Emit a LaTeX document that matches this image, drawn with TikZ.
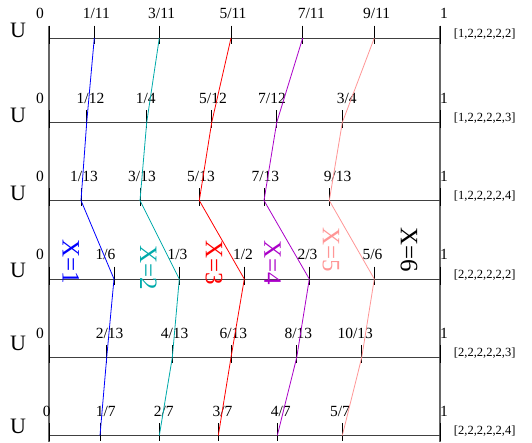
\documentclass[tikz,border=0pt]{standalone}
\usepackage{fontspec}
\setmainfont{Liberation Serif}
\definecolor{xone}{RGB}{0,0,255}
\definecolor{xtwo}{RGB}{0,170,170}
\definecolor{xthree}{RGB}{255,0,0}
\definecolor{xfour}{RGB}{170,0,200}
\definecolor{xfive}{RGB}{255,150,150}
\begin{document}
\begin{tikzpicture}[
    x=1pt, y=-1pt,
    rowline/.style={draw=black!75, line width=1pt},
    frame/.style={draw=black!60, line width=1.2pt},
    tickline/.style={draw=black, line width=0.9pt},
    num/.style={inner sep=0pt, font=\fontsize{15.5}{17}\selectfont},
    seq/.style={inner sep=0pt, font=\fontsize{12.5}{14}\selectfont},
    ulab/.style={inner sep=0pt, font=\fontsize{22}{24}\selectfont},
    xlab/.style={inner sep=0pt, rotate=-90, font=\fontsize{25}{27}\selectfont},
    path/.style={line width=0.8pt}
]
    \useasboundingbox (0,0) rectangle (532,442);

    % frame
    \coordinate (ftl) at (49,25.5);
    \coordinate (fbl) at (49,442);
    \coordinate (ftr) at (440,25.5);
    \coordinate (fbr) at (440,442);
    \draw[frame] (ftl) -- (fbl);
    \draw[frame] (ftr) -- (fbr);

    % rows: index / height / U height / position of 0 / sequence / ticks
    \foreach \r/\y/\uy/\zx/\sq/\ticks in {
        1/38/30/40/{[1,2,2,2,2,2]}/{94.3/96.3/1/11, 159.3/161.7/3/11, 231/233/5/11, 302.7/311.3/7/11, 374.3/376.7/9/11},
        2/122.5/115/40/{[1,2,2,2,2,3]}/{86.7/90.5/1/12, 146.7/145.8/1/4, 211.7/213/5/12, 276.7/272/7/12, 342.3/346.7/3/4},
        3/200.5/193/40/{[1,2,2,2,2,4]}/{81/84/1/13, 140/142/3/13, 199.3/201/5/13, 264/265.3/7/13, 329.3/337.7/9/13},
        4/279/270/40/{[2,2,2,2,2,2]}/{114/105.5/1/6, 179.3/177.5/1/3, 244.3/243/1/2, 309.3/307.5/2/3, 374.3/372.5/5/6},
        5/357.5/343/40/{[2,2,2,2,2,3]}/{106.7/109.7/2/13, 172.3/174.7/4/13, 231/233.3/6/13, 296.7/298.3/8/13, 361.7/355.3/10/13},
        6/435.5/426.5/46.7/{[2,2,2,2,2,4]}/{100/105.7/1/7, 159.3/163.7/2/7, 218.3/222.5/3/7, 277.3/280.8/4/7, 342.3/340/5/7}}
    {
        \coordinate (a\r) at (49,\y);
        \coordinate (b\r) at (440,\y);
        \draw[rowline] (a\r) -- (b\r);
        \draw[tickline] ([yshift=12.5pt]a\r) -- ([yshift=-5.5pt]a\r);
        \draw[tickline] ([yshift=12.5pt]b\r) -- ([yshift=-5.5pt]b\r);
        \node[ulab] (u\r) at (18,\uy) {U};
        \node[num] (z\r) at (\zx,\y-24.5) {0};
        \node[num] (o\r) at (444,\y-24.5) {1};
        \node[seq] (s\r) at (484.7,\y-4) {\sq};
        \foreach \tx/\lx/\n/\d [count=\i] in \ticks {
            \coordinate (p\r\i) at (\tx,\y);
            \draw[tickline] ([yshift=12.5pt]p\r\i) -- ([yshift=-5.5pt]p\r\i);
            \node[num] (f\r\i) at (\lx,\y-24.5) {\n/\d};
        }
    }

    % paths of X=1..5
    \foreach \i/\c in {1/xone, 2/xtwo, 3/xthree, 4/xfour, 5/xfive}
        \draw[path, \c] (p1\i) -- (p2\i) -- (p3\i) -- (p4\i) -- (p5\i) -- (p6\i);

    \node[xlab, text=xone] (x1) at (71,261.5) {X=1};
    \node[xlab, text=xtwo] (x2) at (148.5,268) {X=2};
    \node[xlab, text=xthree] (x3) at (214,262.5) {X=3};
    \node[xlab, text=xfour] (x4) at (272.5,262.5) {X=4};
    \node[xlab, text=xfive] (x5) at (331,250) {X=5};
    \node[xlab] (x6) at (409,250) {X=6};
\end{tikzpicture}
\end{document}
